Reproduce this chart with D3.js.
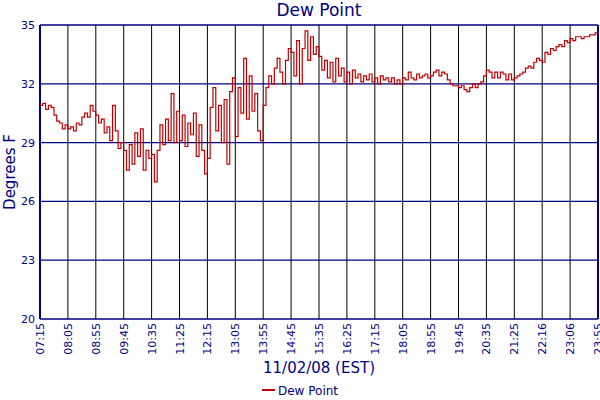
<!DOCTYPE html>
<html>
<head>
<meta charset="utf-8">
<script src="https://cdn.jsdelivr.net/npm/d3@7"></script>
<style>
  body { margin: 0; background: #fff; }
  text { font-family: "DejaVu Sans", Verdana, sans-serif; fill: #000080; }
</style>
</head>
<body>
<svg id="chart" width="600" height="400"></svg>
<script>
const timeLabels = ["07:15","08:05","08:55","09:45","10:35","11:25","12:15","13:05","13:55","14:45",
  "15:35","16:25","17:15","18:05","18:55","19:45","20:35","21:25","22:16","23:06","23:55"];
const yTicks = [20, 23, 26, 29, 32, 35];

// dew point readings, 10 per label interval
const dewPoint = [
  30.9,31.0,30.7,30.9,30.8,30.4,30.1,30.0,29.7,29.9,
  29.7,29.8,29.6,30.0,29.9,30.3,30.5,30.3,30.9,30.6,
  30.4,30.0,30.2,29.5,29.8,29.1,30.9,29.6,28.7,29.0,
  28.6,27.6,28.9,27.9,29.5,28.3,29.7,27.6,28.6,28.2,
  28.4,27.0,28.6,29.9,28.9,30.2,29.1,31.5,29.0,30.6,
  29.1,30.4,28.8,30.0,29.4,30.5,28.3,29.9,28.6,27.4,
  28.2,30.8,31.8,29.6,30.9,29.0,31.2,27.9,31.6,32.3,
  29.3,31.8,30.5,33.3,30.2,32.4,30.6,31.5,29.6,29.1,
  30.9,31.8,32.4,32.0,32.8,33.3,32.6,32.0,33.2,33.8,
  33.6,32.4,34.2,32.0,33.8,34.7,33.2,34.4,33.5,33.9,
  33.4,32.7,33.2,32.3,33.1,32.1,33.3,32.4,32.8,32.1,
  32.6,32.0,32.7,32.3,32.5,32.1,32.4,32.2,32.5,32.1,
  32.3,32.0,32.4,32.2,32.3,32.1,32.3,32.0,32.2,32.0,
  32.3,32.2,32.6,32.3,32.2,32.5,32.3,32.4,32.5,32.3,
  32.4,32.6,32.7,32.4,32.6,32.5,32.2,32.0,31.9,31.9,
  31.8,31.9,31.7,31.6,31.8,32.0,31.8,32.0,32.1,32.4,
  32.7,32.6,32.3,32.6,32.3,32.6,32.5,32.2,32.5,32.2,
  32.3,32.4,32.5,32.6,32.8,32.9,32.8,33.1,33.3,33.2,
  33.1,33.6,33.5,33.8,33.7,33.9,34.0,33.9,34.2,34.1,
  34.3,34.2,34.4,34.4,34.3,34.4,34.4,34.5,34.5,34.6,
  34.6
];

const svg = d3.select('#chart');
const mLeft = 40, mRight = 598, mTop = 25, mBottom = 319;
const navy = '#000080';

const x = d3.scaleLinear().domain([0, timeLabels.length - 1]).range([mLeft, mRight]);
const y = d3.scaleLinear().domain([20, 35]).range([mBottom, mTop]);

// grid
svg.append('g').selectAll('line').data(d3.range(timeLabels.length))
  .enter().append('line')
    .attr('x1', d => x(d)).attr('x2', d => x(d))
    .attr('y1', mTop).attr('y2', mBottom)
    .attr('stroke', d => (d > 0 && d < 20) ? '#000' : navy)
    .attr('stroke-width', 1);
svg.append('g').selectAll('line').data(yTicks)
  .enter().append('line')
    .attr('x1', mLeft).attr('x2', mRight)
    .attr('y1', d => y(d)).attr('y2', d => y(d))
    .attr('stroke', navy).attr('stroke-width', 1.3);

// frame
svg.append('line').attr('x1', mLeft).attr('x2', mLeft).attr('y1', mTop).attr('y2', mBottom)
  .attr('stroke', navy).attr('stroke-width', 2);
svg.append('line').attr('x1', mRight).attr('x2', mRight).attr('y1', mTop).attr('y2', mBottom)
  .attr('stroke', navy).attr('stroke-width', 2);

// data line
const line = d3.line()
  .x((d, i) => x(i / 10))
  .y(d => y(d))
  .curve(d3.curveStepAfter);
svg.append('path').datum(dewPoint)
  .attr('d', line)
  .attr('fill', 'none')
  .attr('stroke', '#c00000')
  .attr('stroke-width', 1.2);

// y labels
svg.selectAll('.ylab').data(yTicks).enter().append('text')
  .attr('class', 'ylab')
  .attr('x', 35).attr('y', d => y(d) + 4)
  .attr('text-anchor', 'end').attr('font-size', 11)
  .text(d => d);

// x labels
svg.selectAll('.xlab').data(timeLabels).enter().append('text')
  .attr('class', 'xlab')
  .attr('transform', (d, i) => 'translate(' + (x(i) + 4) + ',' + 323 + ') rotate(-90)')
  .attr('text-anchor', 'end').attr('font-size', 11)
  .text(d => d);

svg.append('text').attr('x', 319).attr('y', 16).attr('text-anchor', 'middle')
  .attr('font-size', 17).text('Dew Point');
svg.append('text').attr('x', 319).attr('y', 373).attr('text-anchor', 'middle')
  .attr('font-size', 15).text('11/02/08 (EST)');
svg.append('text').attr('transform', 'translate(15,172) rotate(-90)')
  .attr('text-anchor', 'middle').attr('font-size', 15).text('Degrees F');

// legend
svg.append('line').attr('x1', 262).attr('x2', 275).attr('y1', 390).attr('y2', 390)
  .attr('stroke', '#c00000').attr('stroke-width', 2);
svg.append('text').attr('x', 278).attr('y', 395).attr('font-size', 12).text('Dew Point');
</script>
</body>
</html>
